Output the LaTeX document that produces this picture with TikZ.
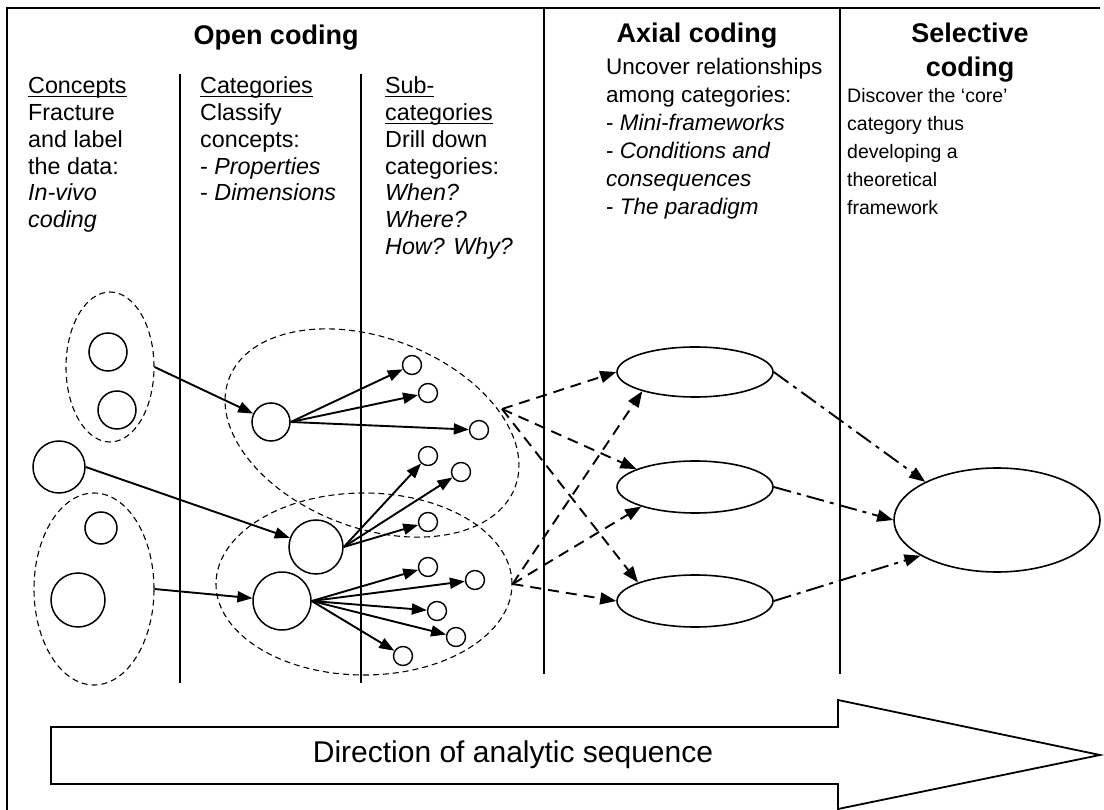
\documentclass[tikz,border=0pt]{standalone}
\usepackage{fontspec}
\setmainfont{Liberation Sans}
\usetikzlibrary{arrows.meta,shapes.geometric}
% underlined heading word with a Word-like rule under the baseline
\newcommand\ulword[1]{\setbox0\hbox{#1}\rlap{\rule[-3.2pt]{\wd0}{1.3pt}}\copy0}
\begin{document}
\begin{tikzpicture}[x=1pt,y=-1pt,
  frameline/.style={line width=1.8pt},
  colline/.style={line width=1.6pt},
  dotnode/.style={circle,draw,line width=1.5pt,inner sep=0pt,minimum size=#1},
  subnode/.style={circle,draw,line width=1.4pt,inner sep=0pt,minimum size=19pt},
  grp/.style={ellipse,draw,line width=1.1pt,dash pattern=on 6pt off 4pt,inner sep=0pt},
  ovalnode/.style={ellipse,draw,line width=1.6pt,inner sep=0pt},
  headtip/.style={-{Triangle[length=15pt,width=11pt]}},
  linkarrow/.style={line width=1.9pt,headtip},
  relarrow/.style={line width=1.9pt,dash pattern=on 11pt off 7pt,-{Triangle[length=16pt,width=12pt]}},
  corearrow/.style={line width=1.9pt,dash pattern=on 18pt off 6pt on 4pt off 6pt,-{Triangle[length=16pt,width=12pt]}},
  txtbody/.style={anchor=base west,inner sep=0pt},
  txttitle/.style={anchor=base,inner sep=0pt,font=\bfseries\fontsize{27}{34}\selectfont}
]
\useasboundingbox (0,0) rectangle (1104,810);

% frame and column rules
\draw[frameline] (7,810) -- (7,8) -- (1100,8);
\draw[colline] (544,8) -- (544,674);
\draw[colline] (840,8) -- (840,674);
\draw[colline] (180,74) -- (180,683);
\draw[colline] (361,74) -- (361,683);

% headings
\node[txttitle] (ttlopen) at (276,45) {Open coding};
\node[txttitle] (ttlaxial) at (697,43) {Axial coding};
\node[txttitle] (ttlsel) at (970,43) {\begin{tabular}[t]{@{}c@{}}Selective\\coding\end{tabular}};

% column texts
\node[txtbody,font=\fontsize{23.3}{26.7}\selectfont] (txtconc) at (28,94)
  {\begin{tabular}[t]{@{}l@{}}\ulword{Concepts}\\Fracture\\and label\\the data:\\\textit{In-vivo}\\\textit{coding}\end{tabular}};
\node[txtbody,font=\fontsize{23.3}{26.7}\selectfont] (txtcat) at (200,94)
  {\begin{tabular}[t]{@{}l@{}}\ulword{Categories}\\Classify\\concepts:\\- \textit{Properties}\\- \textit{Dimensions}\end{tabular}};
\node[txtbody,font=\fontsize{23.3}{26.7}\selectfont] (txtsub) at (385,94)
  {\begin{tabular}[t]{@{}l@{}}\ulword{Sub-}\\\ulword{categories}\\Drill down\\categories:\\\textit{When?}\\\textit{Where?}\\\textit{How? Why?}\end{tabular}};
\node[txtbody,font=\fontsize{22.5}{28}\selectfont] (txtaxial) at (606,75)
  {\begin{tabular}[t]{@{}l@{}}Uncover relationships\\among categories:\\- \textit{Mini-frameworks}\\- \textit{Conditions and}\\\textit{consequences}\\- \textit{The paradigm}\end{tabular}};
\node[txtbody,font=\fontsize{19.5}{28}\selectfont] (txtsel) at (847,103)
  {\begin{tabular}[t]{@{}l@{}}Discover the ‘core’\\category thus\\developing a\\theoretical\\framework\end{tabular}};

% groupings of concepts and categories
\node[grp,minimum width=88pt,minimum height=150pt] (ga) at (110,367) {};
\node[grp,minimum width=120pt,minimum height=192pt] (gb) at (94,589) {};
\node[grp,minimum width=306pt,minimum height=190pt,rotate=-20.8] (gc) at (372,433) {};
\node[grp,minimum width=296pt,minimum height=182pt] (gd) at (364,584) {};

% concepts
\node[dotnode=38pt] (ca) at (108,352) {};
\node[dotnode=38pt] (cb) at (117,410) {};
\node[dotnode=52pt] (cc) at (59,467) {};
\node[dotnode=32pt] (cd) at (101,528) {};
\node[dotnode=54pt] (ce) at (78,600) {};

% categories
\node[dotnode=38pt] (k1) at (271,422) {};
\node[dotnode=54pt] (k2) at (316,547) {};
\node[dotnode=58pt] (k3) at (282,601) {};

% sub-categories
\node[subnode] (s1) at (412,365) {};
\node[subnode] (s2) at (428,393) {};
\node[subnode] (s3) at (479,430) {};
\node[subnode] (s4) at (428,456) {};
\node[subnode] (s5) at (461,472) {};
\node[subnode] (s6) at (428,522) {};
\node[subnode] (s7) at (428,567) {};
\node[subnode] (s8) at (475,580) {};
\node[subnode] (s9) at (437,611) {};
\node[subnode] (s10) at (456,637) {};
\node[subnode] (s11) at (403,656) {};

% axial and core categories
\node[ovalnode,minimum width=156pt,minimum height=50pt] (e1) at (695,372) {};
\node[ovalnode,minimum width=156pt,minimum height=52pt] (e2) at (695,487) {};
\node[ovalnode,minimum width=156pt,minimum height=52pt] (e3) at (695,601) {};
\node[ovalnode,minimum width=206pt,minimum height=104pt] (core) at (997,520) {};

% open coding links
\draw[linkarrow] (ga.east) -- (k1);
\draw[linkarrow] (cc.east) -- (k2);
\draw[linkarrow] (gb.east) -- (k3);
\foreach \s in {s1,s2,s3} \draw[linkarrow] (k1.east) -- (\s);
\foreach \s in {s4,s5,s6} \draw[linkarrow] (k2.east) -- (\s);
\foreach \s in {s7,s8,s9,s10,s11} \draw[linkarrow] (k3.east) -- (\s);

% axial relations
\coordinate (p1) at (502,409);
\coordinate (p2) at (gd.east);
\draw[relarrow] (p1) -- (e1.west);
\draw[relarrow] (p1) -- (e2.163);
\draw[relarrow] (p1) -- (e3.162);
\draw[relarrow] (p2) -- (e1.200);
\draw[relarrow] (p2) -- (e2.200);
\draw[relarrow] (p2) -- (e3.west);

% selective integration
\draw[corearrow] (e1.east) -- (core.152);
\draw[corearrow] (e2.east) -- (core.west);
\draw[corearrow] (e3.east) -- (core.205);

% direction arrow
\draw[line width=1.8pt,fill=white] (51,727) -- (838,727) -- (838,700) -- (1100,755)
  -- (838,809) -- (838,784) -- (51,784) -- cycle;
\node[font=\fontsize{30}{36}\selectfont] (dirtext) at (513,755) {Direction of analytic sequence};
\end{tikzpicture}
\end{document}
